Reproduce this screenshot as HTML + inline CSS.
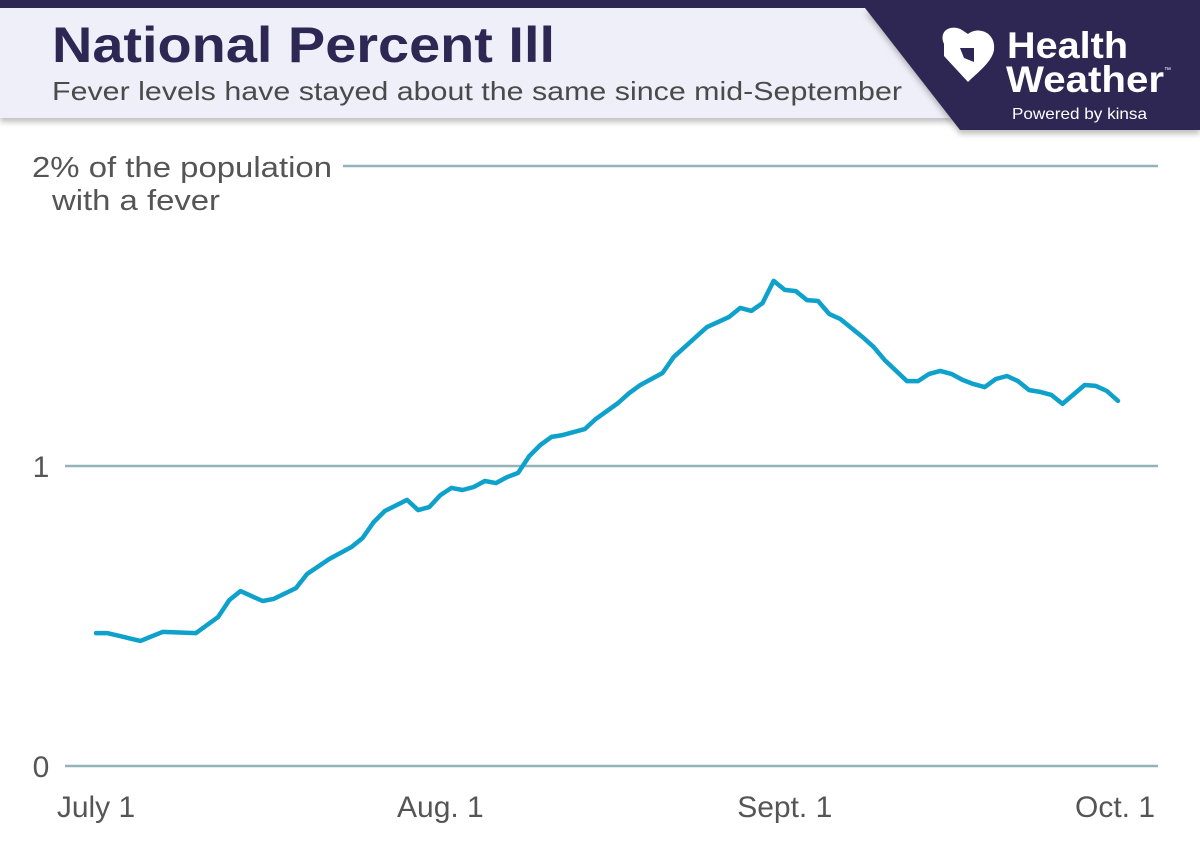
<!DOCTYPE html>
<html><head><meta charset="utf-8"><style>
body{margin:0;width:1200px;height:844px;background:#fff;overflow:hidden;font-family:"Liberation Sans",sans-serif;}
</style></head><body>
<svg width="1200" height="844" viewBox="0 0 1200 844">
<defs><filter id="sh" x="-5%" y="-20%" width="110%" height="150%"><feDropShadow dx="0" dy="4" stdDeviation="3" flood-color="#000" flood-opacity="0.25"/></filter></defs>
<rect x="0" y="0" width="1200" height="8" fill="#2f2753"/>
<polygon points="0,8 870,8 955,118 0,118" fill="#efeff9" filter="url(#sh)"/>
<polygon points="865,8 1200,8 1200,130 960,130" fill="#2f2753" filter="url(#sh)"/>
<text x="52" y="62" font-size="50" font-weight="bold" fill="#2f2753" textLength="503" lengthAdjust="spacingAndGlyphs">National Percent Ill</text>
<text x="52" y="100" font-size="26" fill="#4a4a4a" textLength="850" lengthAdjust="spacingAndGlyphs">Fever levels have stayed about the same since mid-September</text>
<g>
<path d="M944,44 C938,30 952,24 962,30 L968,34 C978,26 996,32 994,50 C992,62 978,72 968,82 L944,56 Z" fill="#fff"/>
<path d="M960,48 L974,48 L974,62 L964,58 Z" fill="#2f2753"/>
<text x="1007" y="58" font-size="37" font-weight="bold" fill="#fff" textLength="121" lengthAdjust="spacingAndGlyphs">Health</text>
<text x="1006" y="92" font-size="37" font-weight="bold" fill="#fff" textLength="158" lengthAdjust="spacingAndGlyphs">Weather</text>
<text x="1164" y="72" font-size="7" fill="#fff">™</text>
<text x="1012" y="119" font-size="16" fill="#fff" textLength="135" lengthAdjust="spacingAndGlyphs">Powered by kinsa</text>
</g>
<g id="grid"></g>
<g id="labels"></g>
<polyline id="line" fill="none" stroke="#0ea1cc" stroke-width="4.5" stroke-linejoin="round" stroke-linecap="round"/>
</svg>
<script>
const days=[0,1,4,6,9,11,12,13,15,16,18,19,21,22,23,24,25,26,28,29,30,31,32,33,34,35,36,37,38,39,40,41,42,44,45,47,48,49,51,52,54,55,57,58,59,60,61,62,63,64,65,66,67,68,69,70,71,73,74,75,76,77,78,79,80,81,82,83,84,85,86,87,89,90,91,92];
const values=[.443,.443,.417,.447,.443,.497,.553,.583,.55,.557,.593,.64,.69,.71,.73,.76,.813,.85,.887,.853,.863,.903,.927,.92,.93,.95,.943,.963,.977,1.033,1.07,1.097,1.103,1.123,1.157,1.21,1.243,1.27,1.31,1.363,1.43,1.463,1.497,1.527,1.517,1.543,1.617,1.587,1.583,1.553,1.55,1.507,1.49,1.46,1.43,1.397,1.353,1.283,1.283,1.307,1.317,1.307,1.287,1.273,1.263,1.29,1.30,1.283,1.253,1.247,1.237,1.207,1.27,1.267,1.25,1.217];
const yTicks=[0,1,2];
const xTickDays=[0,31,62,92];
const xTickLabels=["July 1","Aug. 1","Sept. 1","Oct. 1"];
const X=d=>96+d*(1022/92);
const Y=v=>766-v*300;
const ns="http://www.w3.org/2000/svg";
const grid=document.getElementById('grid'),labels=document.getElementById('labels');
yTicks.forEach(t=>{
  const l=document.createElementNS(ns,'line');
  l.setAttribute('x1',t===2?343:65);l.setAttribute('x2',1158);
  l.setAttribute('y1',Y(t));l.setAttribute('y2',Y(t));
  l.setAttribute('stroke','#93b2b9');l.setAttribute('stroke-width','2.5');
  
  
  grid.appendChild(l);
  if(t!==2){
    const tx=document.createElementNS(ns,'text');
    tx.setAttribute('x',41);tx.setAttribute('y',Y(t)+11);tx.setAttribute('font-size','30');
    tx.setAttribute('text-anchor','middle');tx.setAttribute('fill','#555');
    tx.textContent=String(t);
    
    
    labels.appendChild(tx);
  }
});
const yl=document.createElementNS(ns,'text');
yl.setAttribute('font-size','29');yl.setAttribute('fill','#555');
yl.innerHTML='<tspan x="32" y="177" textLength="300" lengthAdjust="spacingAndGlyphs">2% of the population</tspan><tspan x="52" y="210" textLength="168" lengthAdjust="spacingAndGlyphs">with a fever</tspan>';


labels.appendChild(yl);
xTickDays.forEach((d,i)=>{
  const tx=document.createElementNS(ns,'text');
  tx.setAttribute('x',X(d)+(i===3?-3:0));tx.setAttribute('y',817);tx.setAttribute('font-size','30');
  tx.setAttribute('text-anchor','middle');tx.setAttribute('fill','#555');
  tx.textContent=xTickLabels[i];
  
  
  labels.appendChild(tx);
});
const line=document.getElementById('line');
line.setAttribute('points',days.map((d,i)=>X(d)+','+Y(values[i])).join(' '));


</script>
</body></html>
